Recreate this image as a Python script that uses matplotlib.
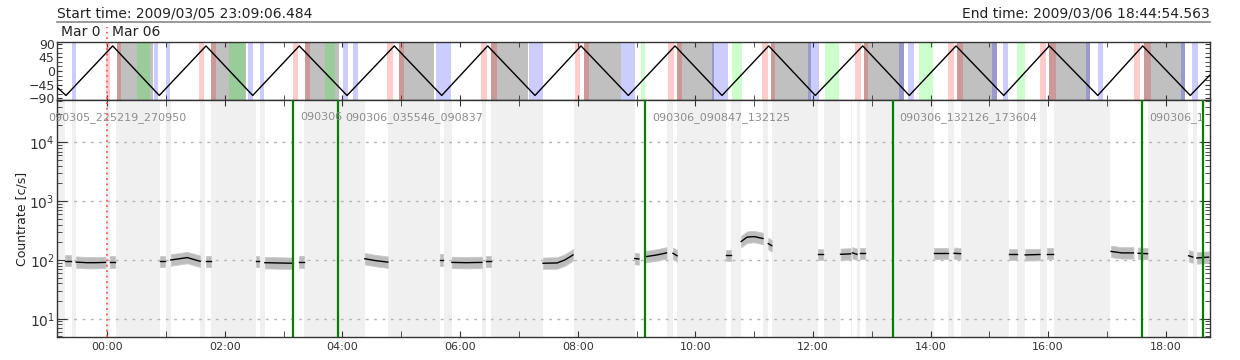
from datetime import datetime

import matplotlib
matplotlib.use("Agg")
import matplotlib.pyplot as plt
import matplotlib.transforms as mtransforms
from matplotlib.ticker import FuncFormatter, LogLocator, MultipleLocator, NullFormatter

# time strings of the plotted range (hours are counted from 2009/03/06 00:00)
START = "2009/03/05 23:09:06.484"
END = "2009/03/06 18:44:54.563"
DAY0 = datetime(2009, 3, 6)

# top panel: orbit track vertices (hour, value)
orbit_t = [-0.848, -0.702, 0.092, 0.884, 1.679, 2.473, 3.265, 4.077, 4.881, 5.687, 6.469,
           7.274, 8.056, 8.861, 9.655, 10.454, 11.248, 12.041, 12.847, 13.639, 14.434,
           15.245, 16.020, 16.844, 17.609, 18.418, 18.748]
orbit_v = [-55, -81, 83, -81, 83, -81, 83, -81, 83, -81, 83, -81, 83, -81, 83, -81, 83,
           -81, 83, -81, 83, -81, 83, -81, 83, -81, -14]

# top panel: flagged intervals (hours)
gray_bands = [(0.165, 0.777), (1.764, 2.359), (3.362, 3.940), (4.961, 5.556), (6.525, 7.155),
              (8.107, 8.736), (9.689, 10.318), (11.287, 11.967), (12.869, 13.549),
              (14.450, 15.131), (16.015, 16.713), (17.631, 18.328)]
red_bands = [(-0.022, 0.046), (1.560, 1.645), (3.158, 3.243), (4.757, 4.859), (6.355, 6.457),
             (7.954, 8.039), (9.536, 9.638), (11.134, 11.236), (12.716, 12.818),
             (14.297, 14.399), (15.862, 15.964), (17.461, 17.563),
             (0.165, 0.233), (1.764, 1.849), (3.362, 3.447), (4.961, 5.046), (6.525, 6.627),
             (8.107, 8.192), (9.689, 9.774), (11.287, 11.355), (12.869, 12.937),
             (14.450, 14.552), (16.015, 16.134), (17.631, 17.750)]
blue_bands = [(-0.600, -0.532), (0.789, 0.867), (0.997, 1.066), (2.393, 2.478), (2.597, 2.665),
              (4.008, 4.093), (4.178, 4.263), (5.590, 5.845), (7.172, 7.410), (8.736, 8.974),
              (10.284, 10.556), (11.916, 12.104), (13.464, 13.549), (13.617, 13.719),
              (15.046, 15.131), (15.233, 15.318), (16.645, 16.713), (16.849, 16.934),
              (18.260, 18.328), (18.447, 18.549)]
green_bands = [(0.505, 0.726), (2.070, 2.342), (3.702, 3.872), (9.076, 9.144), (10.624, 10.794),
               (12.206, 12.444), (13.804, 14.042), (15.471, 15.607)]

# main panel: good time windows (white), everything else is shaded
good_windows = [(-0.719, -0.600), (-0.532, -0.022), (0.046, 0.148), (0.896, 0.998),
                (1.083, 1.577), (1.662, 1.764), (2.529, 2.597), (2.682, 3.345), (4.383, 4.774),
                (5.658, 5.726), (5.862, 6.372), (6.440, 6.525), (7.410, 7.937), (8.974, 9.519),
                (9.621, 9.689), (10.522, 10.607), (10.777, 11.151), (11.236, 11.304),
                (12.087, 12.189), (12.461, 12.648), (12.665, 12.750), (12.801, 12.903),
                (14.060, 14.298), (14.400, 14.519), (15.335, 15.471), (15.607, 15.862),
                (15.981, 16.100), (17.053, 17.699), (18.379, 18.464), (18.532, 18.75)]

# light curve chunks: mean count rate [c/s]
lc_t = [[-0.72, -0.61], [-0.53, -0.35, -0.20, -0.03], [0.05, 0.13], [0.90, 0.98],
        [1.08, 1.20, 1.36, 1.50, 1.58], [1.68, 1.76], [2.53, 2.58], [2.68, 2.90, 3.16],
        [3.26, 3.34], [4.38, 4.55, 4.77], [5.66, 5.71], [5.86, 6.10, 6.37], [6.44, 6.52],
        [7.41, 7.65, 7.78, 7.88, 7.92], [8.97, 9.04], [9.16, 9.35, 9.51], [9.62, 9.69],
        [10.52, 10.61], [10.78, 10.88, 11.00, 11.15], [11.24, 11.30], [12.09, 12.17],
        [12.47, 12.64], [12.67, 12.75], [12.80, 12.89], [14.06, 14.30], [14.40, 14.51],
        [15.34, 15.47], [15.61, 15.86], [15.98, 16.09], [17.07, 17.25, 17.45], [17.53, 17.69],
        [18.39, 18.46], [18.53, 18.73]]
lc_rate = [[97, 97], [92, 90, 90, 91], [92, 92], [95, 95],
           [100, 104, 110, 100, 95], [95, 95], [95, 95], [90, 89, 88],
           [93, 93], [105, 98, 92], [100, 100], [91, 90, 91], [95, 95],
           [88, 89, 100, 115, 122], [106, 104], [114, 122, 132], [130, 118],
           [120, 120], [206, 245, 250, 232], [190, 175], [125, 125],
           [125, 127], [132, 125], [130, 130], [130, 130], [130, 128],
           [125, 125], [122, 124], [128, 128], [140, 132, 132], [130, 128],
           [118, 112], [108, 112]]
lc_spread = 1.25  # scatter of the single bins around the mean (factor)

# data files and their boundaries
seg_names = ["090305_225219_270950", "090306", "090306_035546_090837",
             "090306_090847_132125", "090306_132126_173604", "090306_1"]
seg_starts = [-1.128, 3.164, 3.929, 9.146, 13.357, 17.601]
seg_bounds = [3.164, 3.929, 9.144, 13.357, 17.601, 18.629]


def hours(stamp: str) -> float:
    t = datetime.strptime(stamp, "%Y/%m/%d %H:%M:%S.%f")
    return (t - DAY0).total_seconds() / 3600.0


def hhmm(x, pos=None) -> str:
    return f"{int(round(x)) % 24:02d}:00"


def main() -> None:
    t0, t1 = hours(START), hours(END)
    fig = plt.figure(figsize=(12.4, 3.6), dpi=100)
    frame_col = "#333333"

    ax_top = fig.add_axes([0.0463, 0.7214, 0.9293, 0.1628])
    ax = fig.add_axes([0.0463, 0.0639, 0.9293, 0.6575])

    # ---- top panel
    for a, b in gray_bands:
        ax_top.axvspan(a, b, color="#c0c0c0", lw=0, zorder=1)
    for bands, col in ((red_bands, "#ff0000"), (blue_bands, "#0000ff"), (green_bands, "#00ff00")):
        for a, b in bands:
            ax_top.axvspan(a, b, color=col, alpha=0.2, lw=0, zorder=2)
    ax_top.plot(orbit_t, orbit_v, color="black", lw=1.0, zorder=4)
    ax_top.set_xlim(t0, t1)
    ax_top.set_ylim(-97, 97)
    ax_top.set_yticks([-90, -45, 0, 45, 90])
    ax_top.yaxis.set_minor_locator(MultipleLocator(15))
    ax_top.xaxis.set_major_locator(MultipleLocator(2))
    ax_top.xaxis.set_minor_locator(MultipleLocator(1))
    ax_top.xaxis.set_major_formatter(NullFormatter())
    ax_top.tick_params(which="both", direction="in", top=True, right=True, length=3.5,
                       labelsize=9, colors=frame_col, pad=2)

    # ---- main panel
    ax.set_facecolor("#f0f0f0")
    for a, b in good_windows:
        ax.axvspan(a, b, color="white", lw=0, zorder=0.5)
    for dec in (1e1, 1e2, 1e3, 1e4):
        ax.axhline(dec, color="#b4b4b4", lw=1.0, ls=(0, (2, 4)), zorder=1)
    for ts, rs in zip(lc_t, lc_rate):
        lo = [r / lc_spread for r in rs]
        hi = [r * lc_spread for r in rs]
        ax.fill_between(ts, lo, hi, color="#bdbdbd", lw=0.6, edgecolor="#c8c8c8", zorder=2)
        ax.plot(ts, rs, color="black", lw=1.0, zorder=3)
    for tb in seg_bounds:
        ax.axvline(tb, color="#008000", lw=1.6, zorder=4)
    for name, ts in zip(seg_names, seg_starts):
        ax.annotate(name, xy=(ts, 0.929), xycoords=("data", "axes fraction"),
                    xytext=(5, 0), textcoords="offset points", va="center", ha="left",
                    fontsize=8, color="#8c8c8c", annotation_clip=False, zorder=5)

    ax.set_yscale("log")
    ax.set_xlim(t0, t1)
    ax.set_ylim(4.9, 5.2e4)
    ax.yaxis.set_major_locator(LogLocator(base=10, numticks=10))
    ax.yaxis.set_minor_locator(LogLocator(base=10, subs=range(2, 10), numticks=10))
    ax.yaxis.set_minor_formatter(NullFormatter())
    ax.xaxis.set_major_locator(MultipleLocator(2))
    ax.xaxis.set_minor_locator(MultipleLocator(1))
    ax.xaxis.set_major_formatter(FuncFormatter(hhmm))
    ax.tick_params(axis="x", which="both", direction="in", top=True, length=4, labelsize=8,
                   colors=frame_col)
    ax.tick_params(axis="y", which="major", direction="in", right=True, length=7, labelsize=10,
                   colors=frame_col, pad=2)
    ax.tick_params(axis="y", which="minor", direction="in", right=True, length=3.5, colors=frame_col)

    for a in (ax, ax_top):
        for sp in a.spines.values():
            sp.set_color(frame_col)
            sp.set_linewidth(1.0)

    # day boundary, drawn through both panels and the date row
    trans = mtransforms.blended_transform_factory(ax.transData, fig.transFigure)
    ax.plot([0, 0], [0.0639, 0.925], transform=trans, color="#ff5a5a", lw=1.3,
            ls=(0, (1, 2)), clip_on=False, zorder=6)

    # header
    fig.text(0.0463, 0.951, f"Start time: {START}", fontsize=10, color="#222222", va="baseline")
    fig.text(0.9756, 0.951, f"End time: {END}", fontsize=10, color="#222222", va="baseline",
             ha="right")
    fig.add_artist(plt.Line2D([0.0463, 0.9756], [0.9389, 0.9389], color="#888888", lw=1.2))
    fig.text(0.0492, 0.9008, "Mar 0", fontsize=10, color="#222222", va="baseline")
    fig.text(0.0903, 0.9008, "Mar 06", fontsize=10, color="#222222", va="baseline")
    fig.text(0.0177, 0.393, "Countrate [c/s]", fontsize=9, color="#222222", rotation=90,
             va="center", ha="center")

    fig.savefig("out.png", dpi=100)
    plt.close(fig)


if __name__ == "__main__":
    main()
